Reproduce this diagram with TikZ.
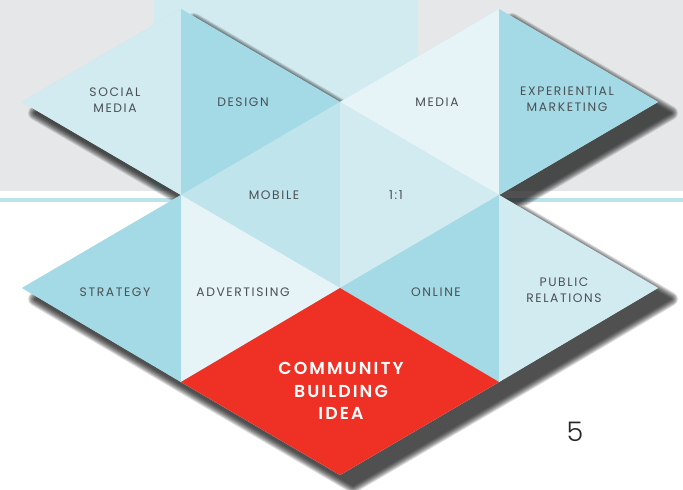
\documentclass[tikz,border=0pt]{standalone}
\usepackage{fontspec}
\newfontfamily\lblfont[LetterSpace=13]{Poppins}
\IfFontExistsTF{Poppins SemiBold}
  {\newfontfamily\redfont[LetterSpace=12]{Poppins SemiBold}}
  {\IfFontExistsTF{Poppins Medium}
    {\newfontfamily\redfont[LetterSpace=12]{Poppins Medium}}
    {\newfontfamily\redfont[LetterSpace=12]{Poppins}}}
\IfFontExistsTF{Poppins Light}
  {\newfontfamily\numfont{Poppins Light}}
  {\newfontfamily\numfont{Poppins}}
\definecolor{bggray}{HTML}{E6E7E9}
\definecolor{topblue}{HTML}{D2EBF0}
\definecolor{lineblue}{HTML}{BCE2EA}
\definecolor{cdark}{HTML}{A3DAE5}
\definecolor{cmid}{HTML}{BFE4EC}
\definecolor{clight}{HTML}{D2EBF1}
\definecolor{cpale}{HTML}{E6F4F8}
\definecolor{cred}{HTML}{EE3124}
\definecolor{labelgray}{HTML}{4B5054}
\newcommand\starshape[1]{([shift={#1}]A) -- ([shift={#1}]B) -- ([shift={#1}]C) -- ([shift={#1}]D) -- ([shift={#1}]E) -- ([shift={#1}]F) -- ([shift={#1}]G) -- ([shift={#1}]H) -- ([shift={#1}]I) -- ([shift={#1}]J) -- ([shift={#1}]K) -- ([shift={#1}]L) -- cycle}
\begin{document}
\begin{tikzpicture}[x=1pt,y=-1pt,
  lbl/.style={font=\lblfont\fontsize{12.3}{15.5}\selectfont, text=labelgray, align=center, inner sep=0pt},
  redlbl/.style={font=\redfont\fontsize{17.3}{22.8}\selectfont, text=white, align=center, inner sep=0pt},
  numlbl/.style={font=\numfont\fontsize{27}{27}\selectfont, text=black!85, inner sep=0pt},
  shadowlayer/.style={fill=black, draw=black, line join=round, line width=#1}]
\useasboundingbox (0,0) rectangle (683,490);
\fill[white] (0,0) rectangle (683,490);
\fill[bggray] (0,0) rectangle (683,190.5);
\fill[topblue] (154,0) rectangle (418,190);
\fill[lineblue] (0,198) rectangle (683,202);
% lattice vertices
\coordinate (A) at (22,102);
\coordinate (B) at (181,9);
\coordinate (C) at (340,102);
\coordinate (D) at (499,9);
\coordinate (E) at (658,102);
\coordinate (F) at (499,195);
\coordinate (G) at (658,288);
\coordinate (H) at (499,382);
\coordinate (I) at (340,475);
\coordinate (J) at (181,382);
\coordinate (K) at (22,288);
\coordinate (L) at (181,195);
\coordinate (M) at (340,288);
% soft shadow: stacked dilations of the shifted outline
\foreach \w in {14,12.5,11,9.5,8,6.5,5,3.5,2,0.1} {
  \begin{scope}[transparency group, opacity=0.107]
    \path[shadowlayer=\w pt] \starshape{(13,11)};
  \end{scope}
}
% triangles
\fill[cmid] \starshape{(0,0)};
\fill[clight] (A) -- (B) -- (L) -- cycle;      % social media
\fill[cdark]  (B) -- (C) -- (L) -- cycle;      % design
\fill[cpale]  (D) -- (C) -- (F) -- cycle;      % media
\fill[cdark]  (D) -- (E) -- (F) -- cycle;      % experiential marketing
\fill[cmid]   (L) -- (C) -- (M) -- cycle;      % mobile
\fill[clight] (C) -- (F) -- (M) -- cycle;      % 1:1
\fill[cdark]  (K) -- (L) -- (J) -- cycle;      % strategy
\fill[cpale]  (L) -- (M) -- (J) -- cycle;      % advertising
\fill[cdark]  (F) -- (M) -- (H) -- cycle;      % online
\fill[clight] (F) -- (G) -- (H) -- cycle;      % public relations
\fill[cred]   (M) -- (H) -- (I) -- (J) -- cycle; % community building idea
% labels
\node[lbl] (social) at (115,100) {SOCIAL\\MEDIA};
\node[lbl] (design) at (243,102) {DESIGN};
\node[lbl] (media) at (437,102) {MEDIA};
\node[lbl] (exp) at (567,99) {EXPERIENTIAL\\MARKETING};
\node[lbl] (mobile) at (274,195) {MOBILE};
\node[lbl] (oneone) at (396,195) {1:1};
\node[lbl] (strategy) at (115,292) {STRATEGY};
\node[lbl] (adv) at (243,292) {ADVERTISING};
\node[lbl] (online) at (436,292) {ONLINE};
\node[lbl] (pr) at (564,290) {PUBLIC\\RELATIONS};
\node[redlbl] (idea) at (341,391) {COMMUNITY\\BUILDING\\IDEA};
\node[numlbl] (page) at (575,432) {5};
\end{tikzpicture}
\end{document}
